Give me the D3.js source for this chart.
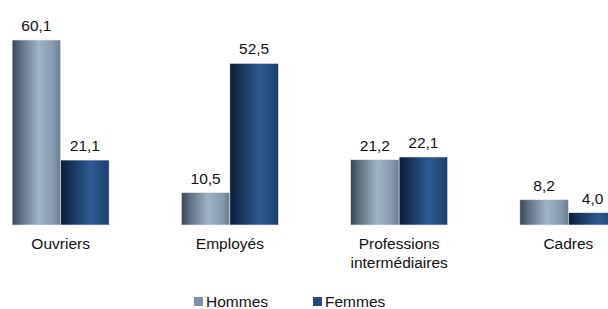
<!DOCTYPE html>
<html>
<head>
<meta charset="utf-8">
<script src="https://cdn.jsdelivr.net/npm/d3@7"></script>
<style>
  body { margin: 0; background: #fff; }
  svg { display: block; font-family: "Liberation Sans", Arial, sans-serif; }
</style>
</head>
<body>
<svg id="chart"></svg>
<script>
// data
var categories = [["Ouvriers"], ["Employés"], ["Professions", "intermédiaires"], ["Cadres"]];
var series = ["Hommes", "Femmes"];
var hommes = [60.1, 10.5, 21.2, 8.2];
var femmes = [21.1, 52.5, 22.1, 4.0];

var width = 608, height = 309;
var baseY = 225;

var svg = d3.select("#chart")
  .attr("width", width)
  .attr("height", height);

// gradients, light in the middle like the original
var defs = svg.append("defs");
var grads = {
  Hommes: [[0, "#3a4550"], [0.18, "#5e7182"], [0.55, "#a0b4c7"], [0.85, "#8599ac"], [1, "#6a7d8f"]],
  Femmes: [[0, "#0d1d35"], [0.2, "#163157"], [0.62, "#2e5b92"], [1, "#1c3f6d"]]
};
series.forEach(function(s) {
  var g = defs.append("linearGradient").attr("id", "g_" + s)
    .attr("x1", "0%").attr("x2", "100%").attr("y1", "0%").attr("y2", "0%");
  grads[s].forEach(function(st) {
    g.append("stop").attr("offset", st[0]).attr("stop-color", st[1]);
  });
});

var x0 = d3.scaleBand()
  .domain(d3.range(categories.length))
  .range([-24, 653])
  .paddingInner(0.427)
  .paddingOuter(0.2135);

var x1 = d3.scaleBand()
  .domain(series)
  .range([0, x0.bandwidth()]);

var y = d3.scaleLinear()
  .domain([0, 60.1])
  .range([baseY, 40]);

var rows = categories.map(function(c, i) {
  return [{s: "Hommes", v: hommes[i]}, {s: "Femmes", v: femmes[i]}];
});

var groups = svg.selectAll("g.grp")
  .data(rows)
  .enter()
  .append("g")
  .attr("class", "grp")
  .attr("transform", function(d, i) { return "translate(" + x0(i) + ",0)"; });

groups.selectAll("rect")
  .data(function(d) { return d; })
  .enter()
  .append("rect")
  .attr("x", function(d) { return x1(d.s); })
  .attr("y", function(d) { return y(d.v); })
  .attr("width", x1.bandwidth())
  .attr("height", function(d) { return baseY - y(d.v); })
  .attr("fill", function(d) { return "url(#g_" + d.s + ")"; })
  .attr("stroke", "#e6e9ee")
  .attr("stroke-width", 0.6);

groups.selectAll("text.val")
  .data(function(d) { return d; })
  .enter()
  .append("text")
  .attr("class", "val")
  .attr("x", function(d) { return x1(d.s) + x1.bandwidth() / 2; })
  .attr("y", function(d) { return y(d.v) - 9; })
  .attr("text-anchor", "middle")
  .attr("font-size", "15.5px")
  .attr("fill", "#111")
  .text(function(d) { return d.v.toFixed(1).replace(".", ","); });

// category labels
svg.selectAll("text.cat")
  .data(categories)
  .enter()
  .append("text")
  .attr("class", "cat")
  .attr("text-anchor", "middle")
  .attr("font-size", "15.5px")
  .attr("fill", "#111")
  .attr("transform", function(d, i) { return "translate(" + (x0(i) + x0.bandwidth() / 2) + ",249)"; })
  .selectAll("tspan")
  .data(function(d) { return d; })
  .enter()
  .append("tspan")
  .attr("x", 0)
  .attr("dy", function(d, i) { return i ? 19 : 0; })
  .text(function(d) { return d; });

// legend
var legX = [194, 313];
var legColors = {Hommes: "#7a93ad", Femmes: "#1f4a80"};
var leg = svg.selectAll("g.leg")
  .data(series)
  .enter()
  .append("g")
  .attr("class", "leg")
  .attr("transform", function(d, i) { return "translate(" + legX[i] + ",297)"; });
leg.append("rect")
  .attr("width", 9).attr("height", 9)
  .attr("fill", function(d) { return legColors[d]; });
leg.append("text")
  .attr("x", 12).attr("y", 10)
  .attr("font-size", "15.5px")
  .attr("fill", "#111")
  .text(function(d) { return d; });
</script>
</body>
</html>
